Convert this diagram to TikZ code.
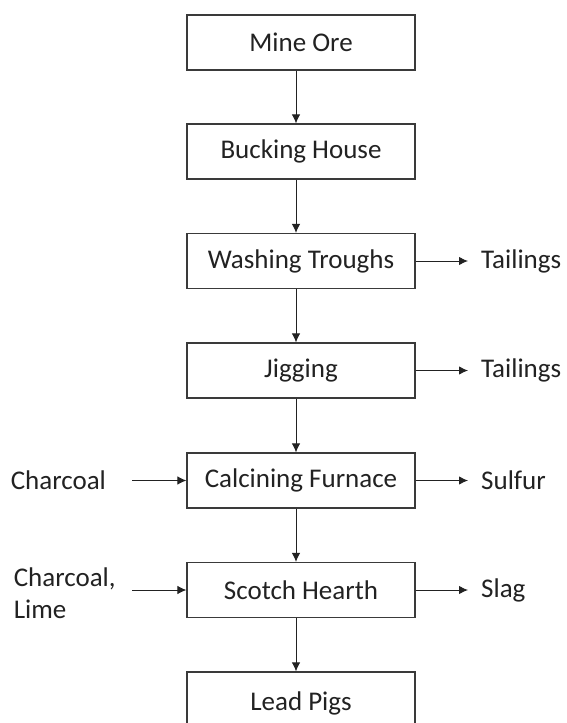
\documentclass[tikz,border=0pt]{standalone}
\usepackage{fontspec}
\setmainfont{Carlito}
\usepackage{xcolor}
\usetikzlibrary{arrows.meta,positioning}
\definecolor{inkgray}{HTML}{222222}
\definecolor{framegray}{HTML}{3A3A3A}
\tikzset{
  stagebox/.style={draw=framegray,line width=1.2pt,minimum width=228pt,minimum height=55pt,inner sep=0pt,text=inkgray,font=\fontsize{27}{32}\selectfont},
  outlabel/.style={anchor=west,inner xsep=13pt,inner ysep=0pt,text=inkgray,font=\fontsize{27}{32}\selectfont},
  inlabel/.style={anchor=east,inner sep=0pt,align=left,text=inkgray,font=\fontsize{27}{32}\selectfont},
  flow/.style={inkgray,line width=1pt,-{Latex[length=9pt,width=8.5pt]}}
}
\begin{document}
\begin{tikzpicture}[x=1pt,y=-1pt]
\useasboundingbox[fill=white] (0,0) rectangle (566,723);
% main stages
\node[stagebox] (mine) at (301,42.5) {Mine Ore};
\node[stagebox] (bucking) at (301,151.5) {Bucking House};
\node[stagebox] (washing) at (301,261) {Washing Troughs};
\node[stagebox] (jigging) at (301,370.5) {Jigging};
\node[stagebox] (calcining) at (301,480.5) {Calcining Furnace};
\node[stagebox] (hearth) at (301,590) {Scotch Hearth};
\node[stagebox,minimum height=62pt] (pigs) at (301,703) {Lead Pigs\\[6pt]};
% side streams
\node[outlabel] (tail1) at (468,261) {Tailings};
\node[outlabel] (tail2) at (468,370.5) {Tailings};
\node[outlabel] (sulfur) at (468,480.5) {Sulfur};
\node[outlabel] (slag) at (468,590) {Slag};
\node[inlabel,text width=121pt] (charcoal) at (132,480.5) {Charcoal};
\node[inlabel,text width=118pt] (charlime) at (132,593) {Charcoal,\\Lime};
% arrows
\foreach \a/\b in {mine/bucking,bucking/washing,washing/jigging,jigging/calcining,calcining/hearth,hearth/pigs}
  \draw[flow] ([xshift=-5pt]\a.south) -- ([xshift=-5pt]\b.north);
\foreach \a/\b in {washing/tail1,jigging/tail2,calcining/sulfur,hearth/slag}
  \draw[flow] (\a.east) -- (\b.west);
\draw[flow] (charcoal.east) -- (calcining.west);
\draw[flow] (charlime.east |- hearth.west) -- (hearth.west);
\end{tikzpicture}
\end{document}
